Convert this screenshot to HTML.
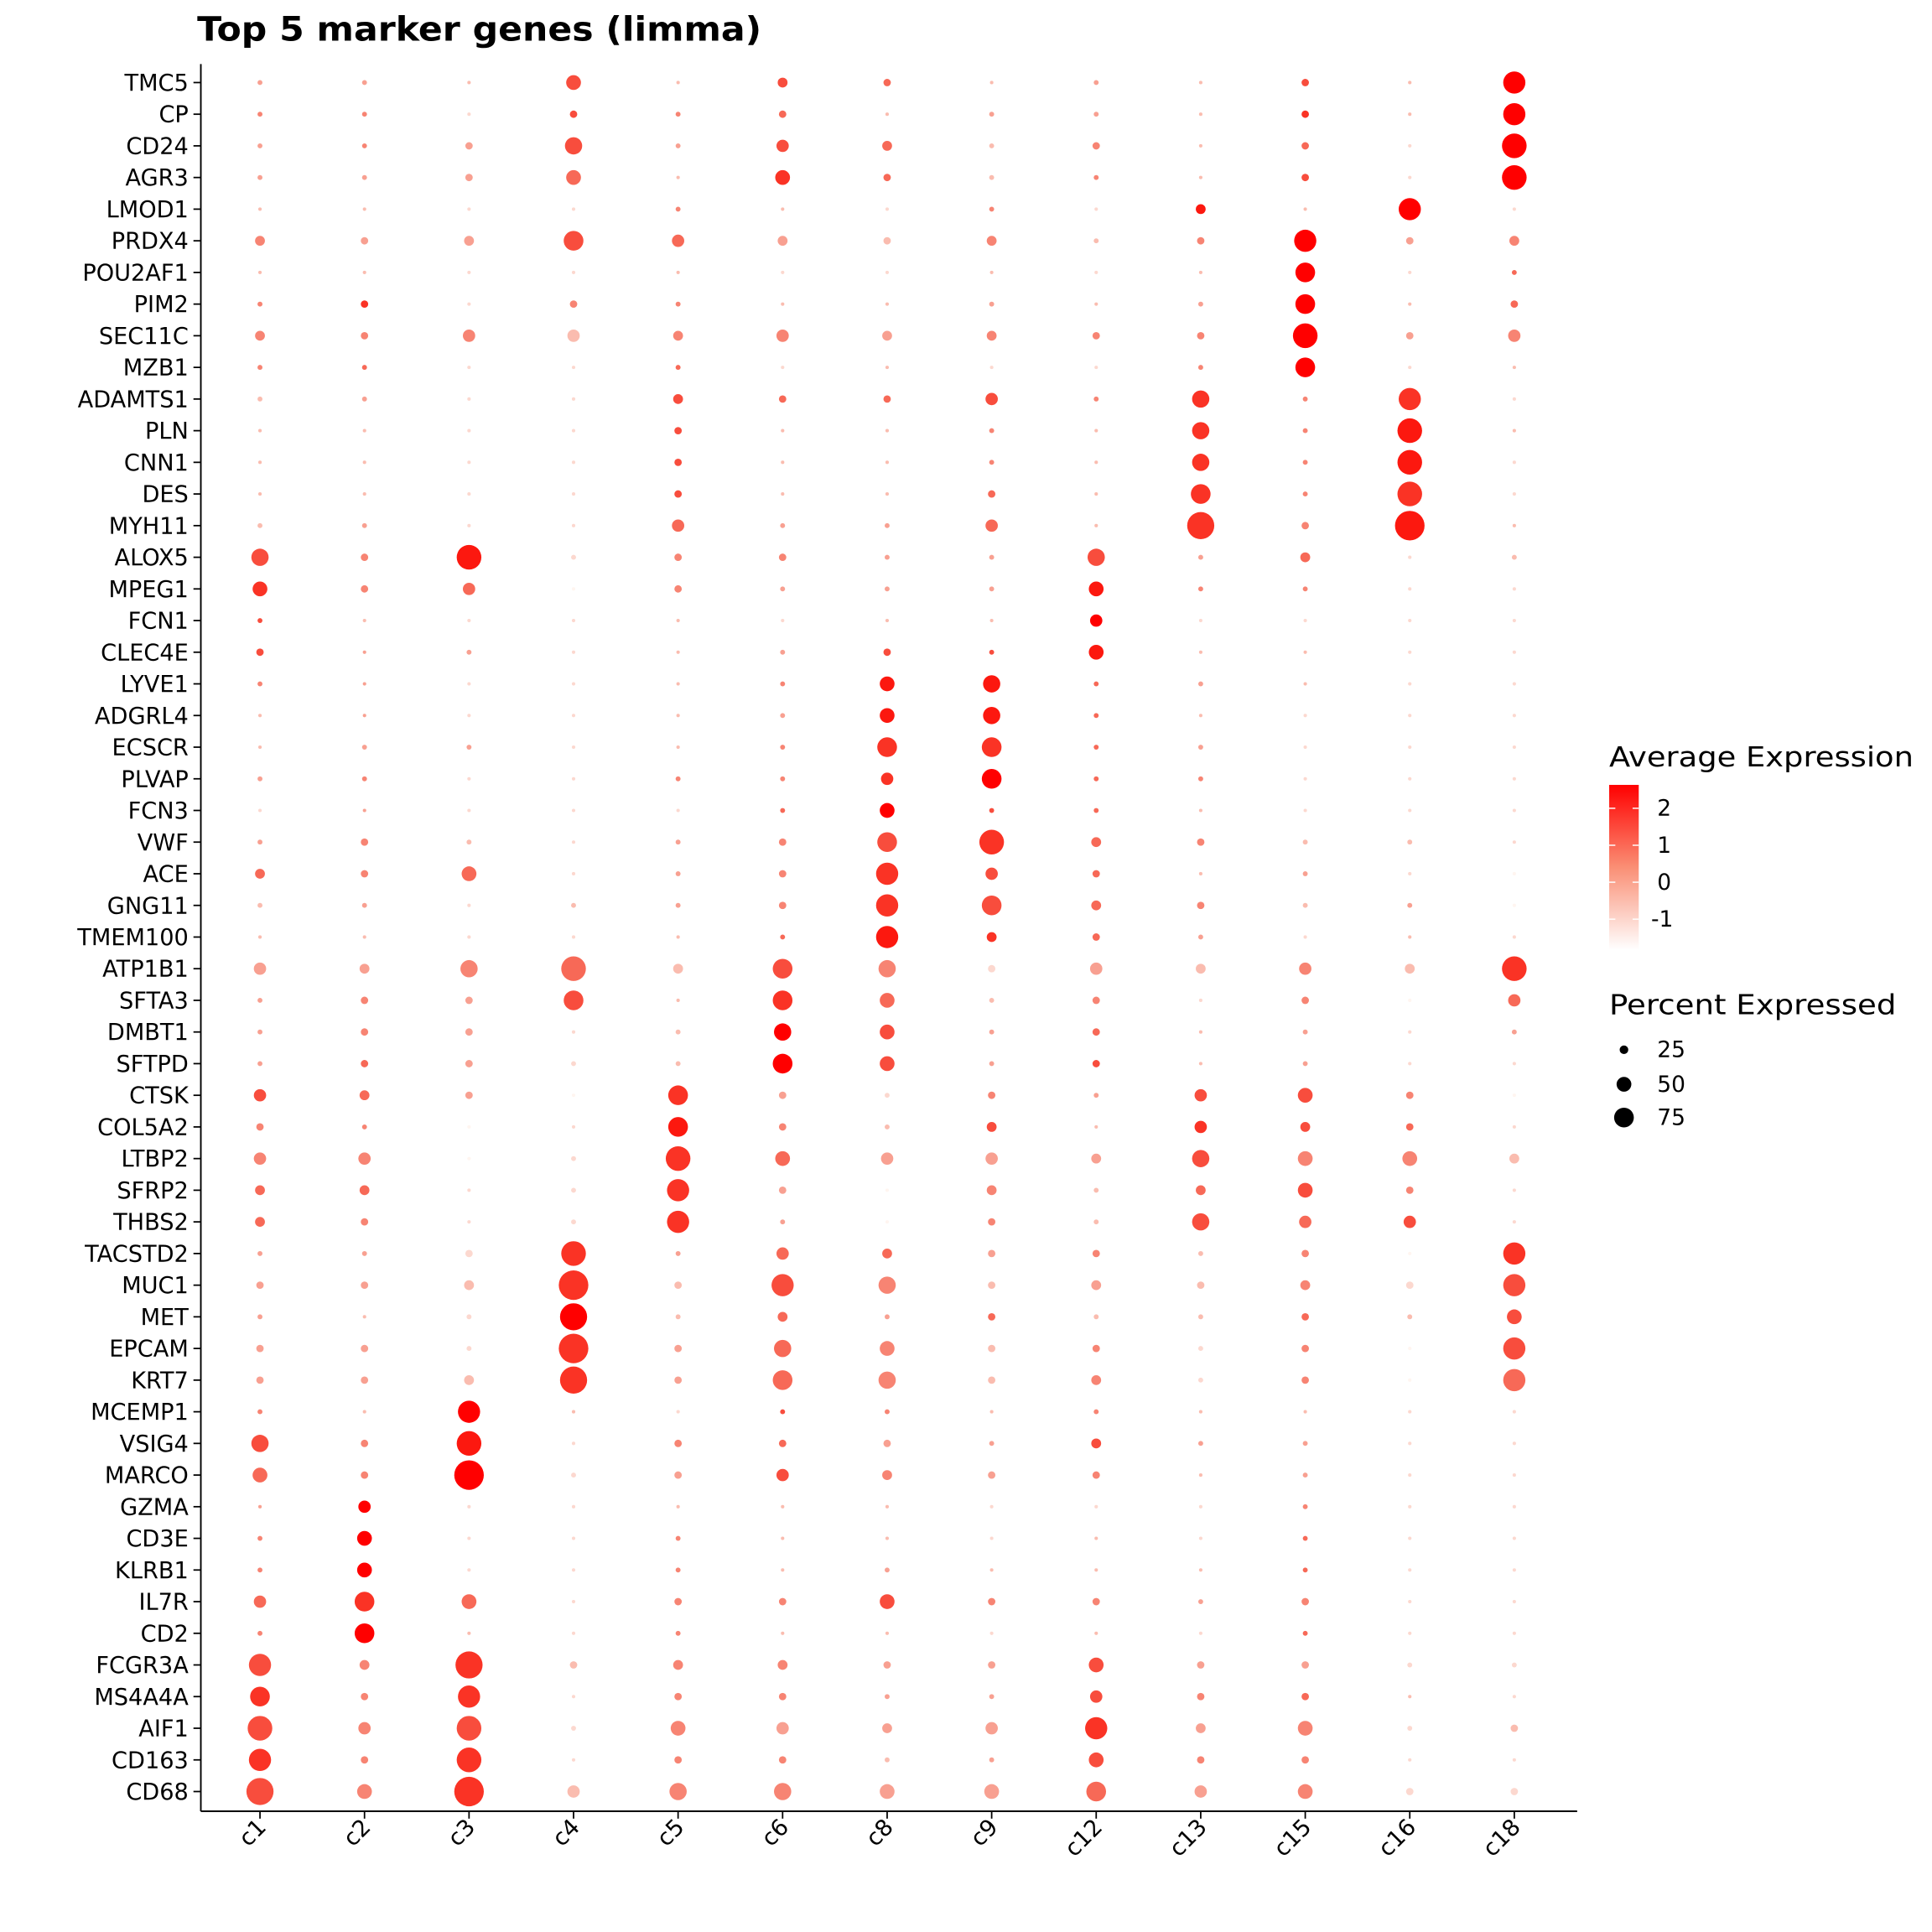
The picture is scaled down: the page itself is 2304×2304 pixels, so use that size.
<!DOCTYPE html>
<html><head><meta charset="utf-8"><style>html,body{margin:0;padding:0;background:#fff}svg{display:block}</style></head>
<body>
<svg id="s" xmlns="http://www.w3.org/2000/svg" width="2304" height="2304" viewBox="0 0 1568 1568" font-family="'DejaVu Sans','Liberation Sans',sans-serif">
<defs><linearGradient id="g" x1="0" y1="1" x2="0" y2="0">
<stop offset="0" stop-color="#ffffff"/><stop offset="0.5" stop-color="#fa8f75"/><stop offset="1" stop-color="#ff0000"/></linearGradient></defs>
<rect width="1568" height="1568" fill="#fff"/>
<text x="160" y="33" font-size="27" font-weight="bold" fill="#000" textLength="458" lengthAdjust="spacingAndGlyphs">Top 5 marker genes (limma)</text>
<g id="plot"></g>
<line x1="163" y1="52" x2="163" y2="1470" stroke="#000" stroke-width="1.3"/>
<line x1="163" y1="1470" x2="1280" y2="1470" stroke="#000" stroke-width="1.3"/>
<text x="1306" y="622" font-size="22.5" textLength="247" lengthAdjust="spacingAndGlyphs">Average Expression</text>
<rect x="1306" y="637" width="24" height="134" fill="url(#g)"/>
<g stroke="#fff" stroke-width="1"><line x1="1306" y1="656" x2="1311" y2="656"/><line x1="1325" y1="656" x2="1330" y2="656"/><line x1="1306" y1="686" x2="1311" y2="686"/><line x1="1325" y1="686" x2="1330" y2="686"/><line x1="1306" y1="716" x2="1311" y2="716"/><line x1="1325" y1="716" x2="1330" y2="716"/><line x1="1306" y1="746" x2="1311" y2="746"/><line x1="1325" y1="746" x2="1330" y2="746"/></g>
<g font-size="18"><text x="1345" y="662">2</text><text x="1345" y="692">1</text><text x="1345" y="722">0</text><text x="1340" y="752">-1</text></g>
<text x="1306" y="823" font-size="22.5" textLength="233" lengthAdjust="spacingAndGlyphs">Percent Expressed</text>
<circle cx="1318" cy="852" r="3.5"/><circle cx="1318" cy="880" r="6"/><circle cx="1318" cy="907" r="8"/>
<g font-size="18"><text x="1345" y="858">25</text><text x="1345" y="886">50</text><text x="1345" y="913">75</text></g>
</svg>
<script>
var genes=["TMC5","CP","CD24","AGR3","LMOD1","PRDX4","POU2AF1","PIM2","SEC11C","MZB1","ADAMTS1","PLN","CNN1","DES","MYH11","ALOX5","MPEG1","FCN1","CLEC4E","LYVE1","ADGRL4","ECSCR","PLVAP","FCN3","VWF","ACE","GNG11","TMEM100","ATP1B1","SFTA3","DMBT1","SFTPD","CTSK","COL5A2","LTBP2","SFRP2","THBS2","TACSTD2","MUC1","MET","EPCAM","KRT7","MCEMP1","VSIG4","MARCO","GZMA","CD3E","KLRB1","IL7R","CD2","FCGR3A","MS4A4A","AIF1","CD163","CD68"];
var cl=["c1","c2","c3","c4","c5","c6","c8","c9","c12","c13","c15","c16","c18"];
var D=[
[[2,3],[2,3],[1,2],[6,6],[1,2],[4,6],[3,5],[1,2],[2,3],[1,2],[3,6],[1,2],[9,9]],
[[2,4],[2,4],[1,1],[3,6],[2,4],[3,5],[1,2],[2,3],[2,3],[1,2],[3,7],[1,2],[9,9]],
[[2,3],[2,4],[3,3],[7,6],[2,3],[5,6],[4,5],[2,2],[3,4],[1,2],[3,5],[1,1],[10,9]],
[[2,3],[2,3],[3,3],[6,5],[1,2],[6,7],[3,5],[2,2],[2,4],[1,2],[3,6],[1,1],[10,9]],
[[1,2],[1,2],[1,1],[1,1],[2,4],[1,2],[1,1],[2,4],[1,1],[4,8],[1,2],[9,9],[1,1]],
[[4,4],[3,3],[4,3],[8,6],[5,5],[4,3],[3,2],[4,4],[2,2],[3,4],[9,9],[3,3],[4,4]],
[[1,2],[1,2],[1,1],[1,1],[1,2],[1,1],[1,1],[1,2],[1,1],[1,2],[8,9],[1,1],[2,5]],
[[2,4],[3,7],[1,1],[3,4],[2,4],[1,2],[1,2],[2,3],[1,2],[2,3],[8,9],[1,2],[3,5]],
[[4,4],[3,4],[5,4],[5,2],[4,4],[5,4],[4,3],[4,4],[3,4],[3,4],[10,9],[3,3],[5,4]],
[[2,4],[2,5],[1,1],[1,1],[2,5],[1,1],[1,2],[1,1],[1,1],[2,4],[8,9],[1,1],[1,2]],
[[2,2],[2,3],[1,1],[1,1],[4,6],[3,5],[3,5],[5,6],[2,4],[7,7],[2,4],[9,7],[1,1]],
[[1,2],[1,2],[1,1],[1,1],[3,6],[1,2],[1,2],[2,4],[1,2],[7,7],[2,4],[10,8],[1,2]],
[[1,2],[1,2],[1,1],[1,1],[3,6],[1,2],[1,2],[2,4],[1,2],[7,7],[2,4],[10,8],[1,1]],
[[1,2],[1,2],[1,1],[1,1],[3,6],[1,2],[1,2],[3,5],[1,2],[8,7],[2,4],[10,7],[1,1]],
[[2,2],[2,3],[1,1],[1,1],[5,5],[2,3],[2,3],[5,5],[1,2],[11,7],[3,4],[12,8],[1,2]],
[[7,6],[3,4],[10,8],[2,1],[3,4],[3,4],[2,3],[2,3],[7,6],[2,3],[4,5],[1,1],[2,2]],
[[6,7],[3,4],[5,5],[1,0],[3,4],[2,3],[2,3],[2,3],[6,8],[2,4],[2,4],[1,1],[1,1]],
[[2,6],[1,2],[1,1],[1,1],[1,2],[1,1],[1,2],[1,2],[5,9],[1,1],[1,1],[1,1],[1,1]],
[[3,6],[1,3],[2,3],[1,1],[1,2],[2,3],[3,6],[2,6],[6,8],[1,2],[1,2],[1,1],[1,1]],
[[2,4],[1,3],[1,1],[1,1],[1,2],[2,4],[6,8],[7,8],[2,5],[2,3],[1,2],[1,1],[1,1]],
[[1,2],[1,3],[1,1],[1,1],[1,2],[2,3],[6,8],[7,8],[2,5],[1,2],[1,1],[1,1],[1,1]],
[[1,2],[2,3],[2,3],[1,1],[1,2],[2,4],[8,7],[8,7],[2,5],[2,3],[1,1],[1,1],[1,1]],
[[2,3],[2,4],[1,1],[1,1],[2,4],[2,4],[5,7],[8,9],[2,5],[2,4],[1,1],[1,1],[1,1]],
[[1,1],[1,3],[1,1],[1,1],[1,1],[2,5],[6,9],[2,6],[2,5],[1,2],[1,1],[1,1],[1,1]],
[[2,3],[3,4],[2,2],[1,1],[2,3],[3,4],[8,6],[10,7],[4,5],[3,4],[2,2],[2,2],[1,1]],
[[4,5],[3,4],[6,5],[1,1],[2,3],[3,4],[9,7],[5,6],[3,5],[1,2],[2,3],[1,1],[1,0]],
[[2,2],[2,3],[1,1],[2,2],[2,3],[3,4],[9,7],[8,6],[4,5],[3,4],[2,2],[2,3],[1,0]],
[[1,2],[1,2],[1,1],[1,1],[1,2],[2,5],[9,8],[4,7],[3,5],[2,3],[1,1],[1,2],[1,1]],
[[5,3],[4,3],[7,4],[10,5],[4,2],[8,6],[7,4],[3,1],[5,3],[4,2],[5,4],[4,2],[10,7]],
[[2,3],[3,4],[3,3],[8,6],[1,2],[8,7],[6,5],[2,2],[3,4],[1,1],[3,4],[1,0],[5,5]],
[[2,3],[3,4],[3,3],[1,1],[2,2],[7,9],[6,6],[2,3],[3,5],[1,2],[2,3],[1,1],[2,3]],
[[2,3],[3,5],[3,3],[2,1],[2,2],[8,9],[6,6],[2,3],[3,6],[1,2],[2,3],[1,1],[1,1]],
[[5,6],[4,5],[3,3],[1,0],[8,7],[3,3],[2,1],[3,4],[2,3],[5,6],[6,6],[3,4],[1,0]],
[[3,4],[2,4],[1,0],[1,1],[8,8],[3,4],[2,2],[4,6],[1,2],[5,7],[4,6],[3,5],[1,1]],
[[5,4],[5,4],[1,0],[2,1],[10,7],[6,5],[5,3],[5,3],[4,3],[7,6],[6,4],[6,4],[4,2]],
[[4,5],[4,5],[1,1],[2,1],[9,7],[3,3],[1,0],[4,4],[2,2],[4,5],[6,6],[3,4],[1,1]],
[[4,5],[3,4],[1,1],[2,1],[9,7],[2,3],[1,0],[3,4],[2,2],[7,6],[5,5],[5,6],[1,1]],
[[2,3],[2,3],[3,1],[10,7],[2,3],[5,5],[4,5],[3,3],[3,4],[2,2],[3,4],[1,0],[9,7]],
[[3,3],[3,3],[4,2],[12,7],[3,2],[9,6],[7,4],[3,2],[4,3],[3,2],[4,4],[3,1],[9,6]],
[[2,3],[1,2],[2,1],[11,9],[2,2],[4,5],[2,3],[3,5],[2,2],[2,2],[3,5],[2,2],[6,6]],
[[3,3],[3,3],[2,1],[12,7],[3,3],[7,5],[6,4],[3,2],[3,4],[2,1],[3,4],[1,0],[9,6]],
[[3,3],[3,3],[4,2],[11,7],[3,3],[8,5],[7,4],[3,2],[4,4],[2,1],[3,4],[1,0],[9,5]],
[[2,4],[1,2],[9,9],[1,2],[1,1],[2,6],[2,4],[1,2],[2,4],[1,2],[1,2],[1,1],[1,1]],
[[7,6],[3,4],[10,8],[1,1],[3,4],[3,5],[3,3],[2,3],[4,6],[2,3],[2,3],[1,1],[1,1]],
[[6,5],[3,4],[12,9],[2,1],[3,3],[5,6],[4,4],[3,3],[3,4],[1,2],[2,3],[1,1],[1,1]],
[[1,3],[5,9],[1,1],[1,1],[1,2],[1,2],[1,2],[1,1],[1,1],[1,1],[2,4],[1,1],[1,1]],
[[2,4],[6,9],[1,1],[1,1],[2,4],[1,2],[1,2],[1,1],[1,2],[1,1],[2,5],[1,1],[1,1]],
[[2,4],[6,9],[1,1],[1,1],[2,4],[1,2],[2,3],[1,2],[1,2],[1,2],[2,5],[1,1],[1,1]],
[[5,5],[8,7],[6,5],[1,1],[3,4],[3,4],[6,6],[3,4],[3,4],[2,3],[3,4],[1,1],[1,1]],
[[2,4],[8,9],[1,2],[1,1],[2,4],[1,2],[1,2],[1,1],[1,2],[1,1],[2,5],[1,1],[1,1]],
[[9,6],[4,4],[11,7],[3,2],[4,4],[4,4],[3,3],[3,3],[6,6],[3,3],[3,3],[2,1],[2,1]],
[[8,7],[3,4],[9,7],[1,1],[3,4],[3,4],[2,3],[2,3],[5,6],[3,4],[3,5],[1,2],[1,1]],
[[10,6],[5,4],[10,6],[2,1],[6,4],[5,3],[4,3],[5,3],[9,7],[4,3],[6,4],[2,1],[3,2]],
[[9,7],[3,4],[10,7],[1,1],[3,4],[3,4],[2,2],[2,3],[6,6],[3,4],[3,4],[1,1],[1,1]],
[[11,6],[6,4],[12,7],[5,2],[7,4],[7,4],[6,3],[6,3],[8,5],[5,3],[6,4],[3,1],[3,1]]
];
function col(c){var t=c/9;var r=255-Math.round(8*Math.sin(Math.PI*t));var g=Math.round(245*Math.pow(1-t,1.05));var b=Math.round(240*Math.pow(1-t,1.25));return "rgb("+r+","+g+","+b+")";}
var h="";var n=genes.length;var y0=67,dy=(1454-67)/(n-1);var x0=211,dx=(1229-211)/12;
for(var i=0;i<n;i++){var y=y0+i*dy;
h+='<text x="153" y="'+(y+6.5)+'" font-size="18.5" text-anchor="end">'+genes[i]+'</text>';
h+='<line x1="157" y1="'+y+'" x2="163" y2="'+y+'" stroke="#000" stroke-width="1.2"/>';
for(var j=0;j<13;j++){var d=D[i][j];var r=d[0]<=1?1.4:d[0];
h+='<circle cx="'+(x0+j*dx)+'" cy="'+y+'" r="'+r+'" fill="'+col(d[1])+'"/>';}}
for(var j=0;j<13;j++){var x=x0+j*dx;
h+='<line x1="'+x+'" y1="1470" x2="'+x+'" y2="1476" stroke="#000" stroke-width="1.2"/>';
h+='<text transform="translate('+(x+6)+',1484) rotate(-45)" font-size="18.5" text-anchor="end">'+cl[j]+'</text>';}
document.getElementById("plot").innerHTML=h;
</script>
</body></html>
